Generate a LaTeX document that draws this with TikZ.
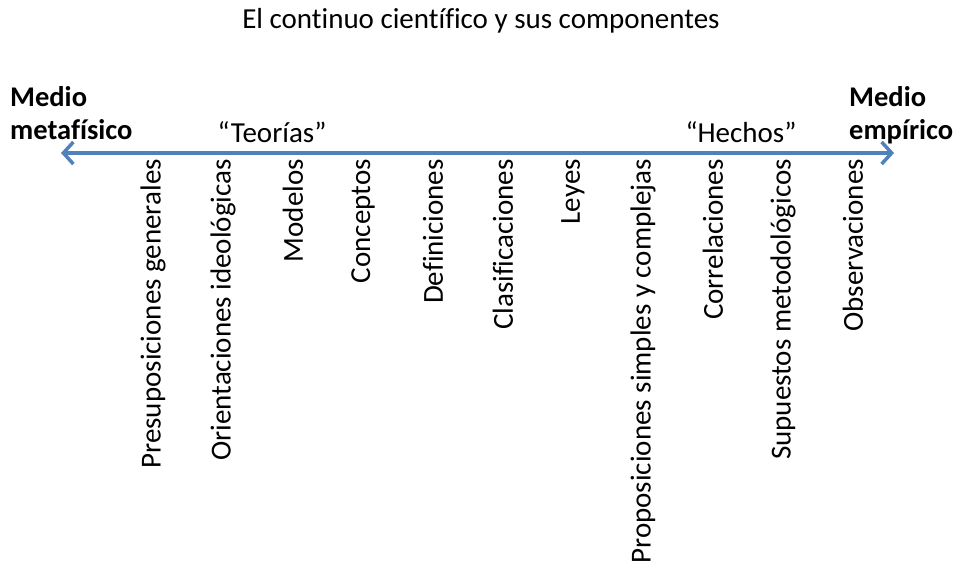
\documentclass[tikz,border=0pt]{standalone}
\usepackage{fontspec}
\setmainfont[Ligatures=NoCommon]{Carlito}
\usetikzlibrary{arrows.meta}
\definecolor{ejeazul}{RGB}{79,129,189}
\tikzset{
  rotulo/.style={font=\fontsize{29}{33}\selectfont, inner sep=0pt},
  extremo/.style={font=\fontsize{28.5}{33}\selectfont\bfseries, inner sep=0pt, align=left},
  componente/.style={rotulo, rotate=90, anchor=east},
  eje/.style={line width=3.5pt, ejeazul, {Straight Barb[length=10pt,width=22pt]}-{Straight Barb[length=10pt,width=22pt]}}
}
\begin{document}
\begin{tikzpicture}[x=1pt,y=-1pt]
  \useasboundingbox (0,0) rectangle (957,566);

  \node[rotulo] (titulo) at (481,21) {El continuo científico y sus componentes};

  \node[extremo, anchor=north west] (metafisico) at (10,86) {Medio\\metafísico};
  \node[extremo, anchor=north west] (empirico) at (849,86) {Medio\\empírico};

  \node[rotulo] (teorias) at (272,132) {“Teorías”};
  \node[rotulo] (hechos) at (741,132) {“Hechos”};

  \coordinate (izq) at (61,153);
  \coordinate (der) at (894,153);
  \draw[eje] (izq) -- (der);

  \foreach \texto [count=\i] in {Presuposiciones generales, Orientaciones ideológicas,
      Modelos, Conceptos, Definiciones, Clasificaciones, Leyes,
      Proposiciones simples y complejas, Correlaciones, Supuestos metodológicos,
      Observaciones}
    \node[componente] (c\i) at ({83+70*\i},159) {\texto};
\end{tikzpicture}
\end{document}
